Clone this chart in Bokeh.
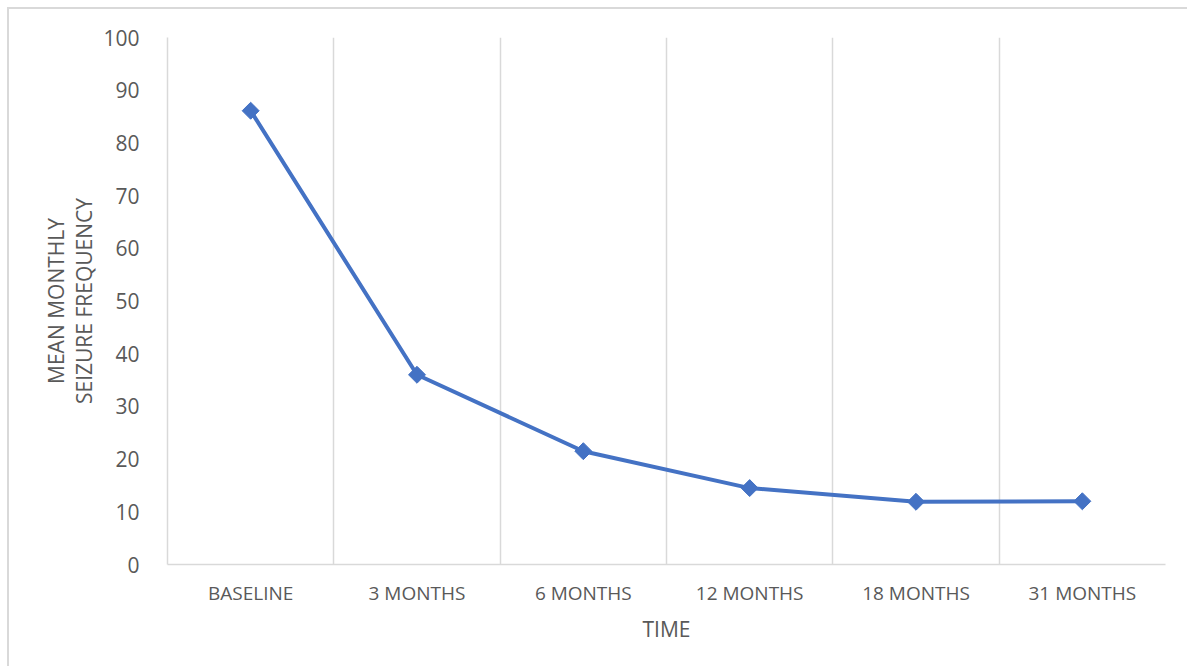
import math
from bokeh.plotting import figure
from bokeh.models import FixedTicker, ColumnDataSource, Range1d
from bokeh.embed import file_html
from bokeh.resources import INLINE

# Mean monthly seizure frequency at each follow-up visit
time_points = ["BASELINE", "3 MONTHS", "6 MONTHS", "12 MONTHS", "18 MONTHS", "31 MONTHS"]
mean_seizures = [86.1, 36.0, 21.5, 14.5, 11.9, 12.0]
y_ticks = [0, 10, 20, 30, 40, 50, 60, 70, 80, 90, 100]

LINE_BLUE = "#4472C4"
GRID_GREY = "#D9D9D9"
TEXT_GREY = "#595959"
FONT = "Open Sans"

# categories sit at the middle of equal-width slots; grid lines mark slot edges
centers = [i + 0.5 for i in range(len(time_points))]
edges = list(range(len(time_points) + 1))

source = ColumnDataSource(dict(x=centers, y=mean_seizures, label=time_points))

p = figure(
    width=1180, height=659,
    output_backend="svg", toolbar_location=None,
    x_range=Range1d(0, len(time_points)), y_range=Range1d(0, 100),
    min_border_left=158, min_border_right=24,
    min_border_top=28, min_border_bottom=104,
)
# chart-area frame (only its top and left edges fall inside the page)
p.styles = {
    "margin-left": "7px", "margin-top": "7px",
    "border-left": "2px solid #D9D9D9", "border-top": "2px solid #D9D9D9",
}
p.outline_line_color = None
p.background_fill_color = "white"
p.border_fill_color = "white"

# x axis: labels at slot centres
p.xaxis.ticker = FixedTicker(ticks=centers)
p.xaxis.major_label_overrides = {c: t for c, t in zip(centers, time_points)}
p.xaxis.axis_label = "TIME"
p.xaxis.major_tick_line_color = None
p.xaxis.minor_tick_line_color = None
p.xaxis.axis_line_color = GRID_GREY
p.xaxis.axis_line_width = 1.5
p.xaxis.major_label_text_font = FONT
p.xaxis.major_label_text_font_size = "19px"
p.xaxis.major_label_text_color = TEXT_GREY
p.xaxis.major_label_standoff = 9
p.xaxis.axis_label_text_font = FONT
p.xaxis.axis_label_text_font_size = "21px"
p.xaxis.axis_label_text_font_style = "normal"
p.xaxis.axis_label_text_color = TEXT_GREY
p.xaxis.axis_label_standoff = 6

# y axis
p.yaxis.ticker = FixedTicker(ticks=y_ticks)
p.yaxis.axis_label = "MEAN MONTHLY\nSEIZURE FREQUENCY"
p.yaxis.major_tick_line_color = None
p.yaxis.minor_tick_line_color = None
p.yaxis.axis_line_color = GRID_GREY
p.yaxis.axis_line_width = 1.5
p.yaxis.major_label_text_font = FONT
p.yaxis.major_label_text_font_size = "21px"
p.yaxis.major_label_text_color = TEXT_GREY
p.yaxis.major_label_standoff = 22
p.yaxis.axis_label_text_font = FONT
p.yaxis.axis_label_text_font_size = "21px"
p.yaxis.axis_label_text_font_style = "normal"
p.yaxis.axis_label_text_color = TEXT_GREY
p.yaxis.axis_label_text_line_height = 1.0
p.yaxis.axis_label_standoff = 2

# grid: vertical lines only, at slot edges
p.ygrid.grid_line_color = None
p.xgrid.ticker = FixedTicker(ticks=edges)
p.xgrid.grid_line_color = GRID_GREY
p.xgrid.grid_line_width = 1.5

p.line("x", "y", source=source, line_color=LINE_BLUE, line_width=4)
p.scatter("x", "y", source=source, marker="square", angle=math.pi / 4,
          size=12, fill_color=LINE_BLUE, line_color=LINE_BLUE)

open("out.html", "w").write(file_html(p, INLINE))
